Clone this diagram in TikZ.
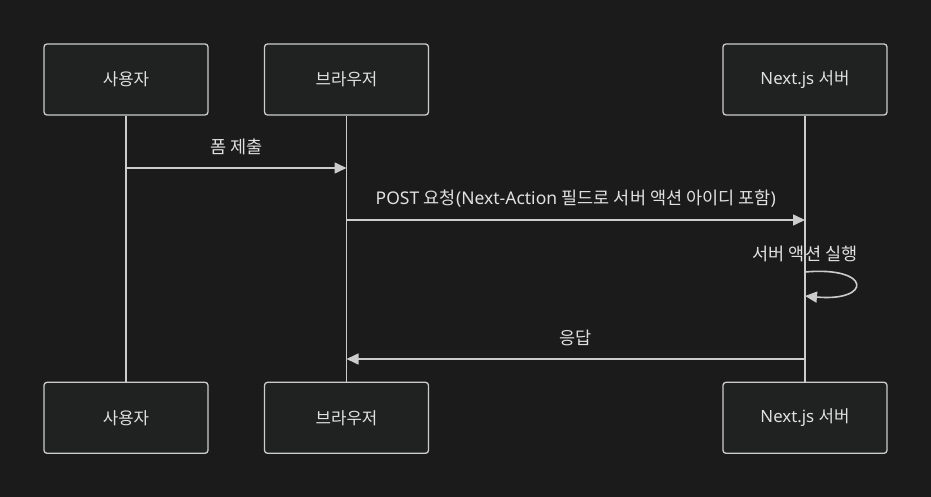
\documentclass[tikz,border=0pt]{standalone}
\usepackage{fontspec}
\setmainfont{Noto Sans}
\newfontfamily\kr{Noto Sans CJK KR}
\usetikzlibrary{positioning, arrows.meta}

\definecolor{bgdark}{HTML}{1B1B1B}
\definecolor{boxfill}{HTML}{202121}
\definecolor{linegray}{HTML}{CCCCCC}
\definecolor{textgray}{HTML}{E0E0E0}

\begin{document}
\begin{tikzpicture}[
   x=1pt, y=-1pt,
   actor/.style={draw=linegray, line width=1.3pt, rounded corners=3pt, fill=boxfill,
         minimum height=71pt, minimum width=164pt, text=textgray,
         font=\fontsize{16.8}{19}\selectfont},
   life/.style={linegray, line width=1.6pt},
   msg/.style={-{Triangle[length=12pt, width=11pt]}, linegray, line width=1.6pt},
   lbl/.style={text=textgray, font=\fontsize{17.5}{20}\selectfont, inner sep=0pt},
   node distance=266pt,
  ]
  \useasboundingbox[fill=bgdark] (0,0) rectangle (931,497);

  % top row
  \node[actor] (user) at (126,79.5) {\kr 사용자};
  \node[actor] (browser) at (346.5,79.5) {\kr 브라우저};
  \node[actor] (server) at (805,79.5) {Next.js {\kr 서버}};

  % bottom row
  \node[actor, below=of user] (userB) {\kr 사용자};
  \node[actor, below=of browser] (browserB) {\kr 브라우저};
  \node[actor, below=of server] (serverB) {Next.js {\kr 서버}};

  \draw[life] (user) -- (userB);
  \draw[life] (browser) -- (browserB);
  \draw[life] (server) -- (serverB);

  % message points on the lifelines
  \coordinate (u1) at (user.center |- 0,168);
  \coordinate (b1) at (browser.center |- 0,168);
  \coordinate (b2) at (browser.center |- 0,220);
  \coordinate (s2) at (server.center |- 0,220);
  \coordinate (s3) at (server.center |- 0,272);
  \coordinate (s4) at (server.center |- 0,296);
  \coordinate (s5) at (server.center |- 0,359);
  \coordinate (b5) at (browser.center |- 0,359);

  \draw[msg] (u1) -- node[lbl, yshift=21pt] (sub) {\kr 폼 제출} (b1);
  \draw[msg] (b2) -- node[lbl, yshift=21pt] (post)
    {POST {\kr 요청}(Next-Action {\kr 필드로 서버 액션 아이디 포함})} (s2);
  \node[lbl, above=10pt of s3] (run) {\kr 서버 액션 실행};
  \draw[msg] (s3) .. controls (872,266) and (872,302) .. (s4);
  \draw[msg] (s5) -- node[lbl, yshift=21pt] (resp) {\kr 응답} (b5);
\end{tikzpicture}
\end{document}
